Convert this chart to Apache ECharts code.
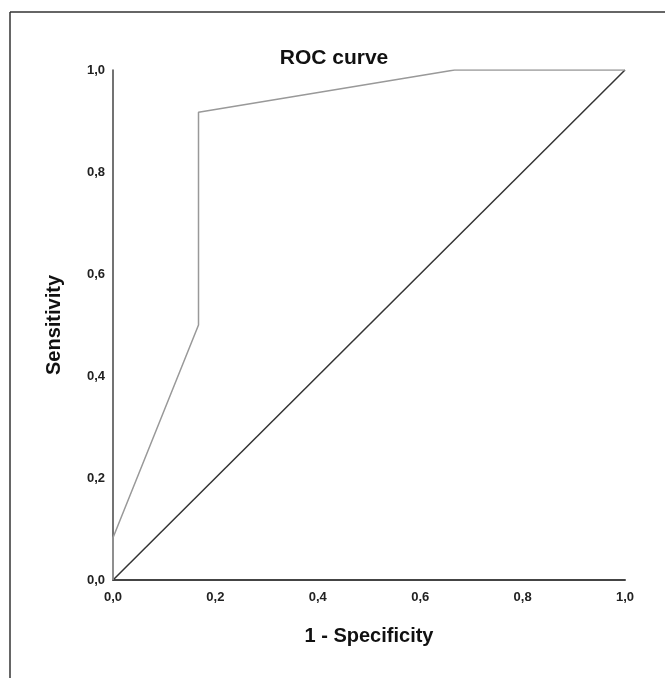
<!DOCTYPE html>
<html>
<head>
<meta charset="utf-8">
<script src="https://cdn.jsdelivr.net/npm/echarts@6/dist/echarts.min.js"></script>
<style>html,body{margin:0;padding:0;background:#fff}#c{width:665px;height:678px}</style>
</head>
<body>
<div id="c"></div>
<script>
const titleText = "ROC curve";
const xName = "1 - Specificity";
const yName = "Sensitivity";
const rocX = [0, 0, 0.167, 0.167, 0.667, 1];
const rocY = [0, 0.083, 0.5, 0.917, 1, 1];
const refX = [0, 1];
const refY = [0, 1];
const tickValues = [0, 0.2, 0.4, 0.6, 0.8, 1.0];

const fmt = v => v.toFixed(1).replace('.', ',');
const chart = echarts.init(document.getElementById('c'), null, {renderer: 'canvas'});
const font = '"Liberation Sans", Arial, sans-serif';
chart.setOption({
  animation: false,
  backgroundColor: '#fff',
  title: {
    text: titleText, left: 329, top: 43, textAlign: 'center',
    textStyle: {fontFamily: font, fontWeight: 'bold', fontSize: 21, color: '#111'}
  },
  grid: {left: 113, right: 40, top: 70, bottom: 98},
  xAxis: {
    type: 'value', min: 0, max: 1, interval: 0.2,
    name: xName, nameLocation: 'middle', nameGap: 46,
    nameTextStyle: {fontFamily: font, fontWeight: 'bold', fontSize: 20, color: '#111'},
    axisLine: {show: true, lineStyle: {color: '#444', width: 2}},
    axisTick: {show: false}, splitLine: {show: false},
    axisLabel: {formatter: fmt, fontFamily: font, fontWeight: 'bold', fontSize: 13, color: '#222', margin: 11}
  },
  yAxis: {
    type: 'value', min: 0, max: 1, interval: 0.2,
    name: yName, nameLocation: 'middle', nameGap: 49,
    nameTextStyle: {fontFamily: font, fontWeight: 'bold', fontSize: 20, color: '#111'},
    axisLine: {show: true, lineStyle: {color: '#444', width: 1.5}},
    axisTick: {show: false}, splitLine: {show: false},
    axisLabel: {formatter: fmt, fontFamily: font, fontWeight: 'bold', fontSize: 13, color: '#222', margin: 8}
  },
  graphic: [
    {type: 'line', shape: {x1: 10, y1: 12, x2: 10, y2: 678}, style: {stroke: '#333', lineWidth: 1.5}},
    {type: 'line', shape: {x1: 10, y1: 12, x2: 665, y2: 12}, style: {stroke: '#333', lineWidth: 1.5}}
  ],
  series: [
    {type: 'line', data: refX.map((x, i) => [x, refY[i]]), symbol: 'none',
     lineStyle: {color: '#333', width: 1.5}, z: 2},
    {type: 'line', data: rocX.map((x, i) => [x, rocY[i]]), symbol: 'none',
     lineStyle: {color: '#999', width: 1.5}, z: 3}
  ]
});
</script>
</body>
</html>
